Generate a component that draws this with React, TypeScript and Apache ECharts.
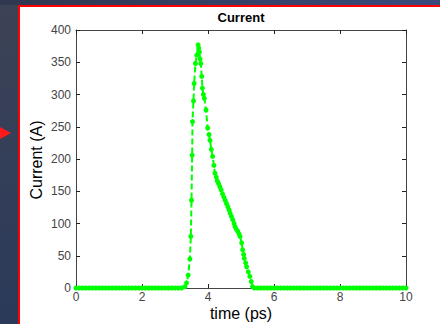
import React, { useEffect, useRef } from "react";
import * as echarts from "echarts";

const time = [
  0, 0.1, 0.2, 0.3, 0.4, 0.5, 0.6, 0.7, 0.8, 0.9, 1.0, 1.1, 1.2, 1.3, 1.4, 1.5, 1.6, 1.7, 1.8, 1.9,
  2.0, 2.1, 2.2, 2.3, 2.4, 2.5, 2.6, 2.7, 2.8, 2.9, 3.0, 3.1, 3.2,
  3.3, 3.35, 3.4, 3.45, 3.48, 3.5, 3.52, 3.53, 3.56, 3.58, 3.62, 3.66, 3.7, 3.72, 3.74, 3.76, 3.78,
  3.81, 3.83, 3.86, 3.89, 3.94, 3.99, 4.03, 4.06, 4.1, 4.14, 4.18, 4.21, 4.25, 4.28, 4.32, 4.36,
  4.4, 4.44, 4.48, 4.52, 4.56, 4.6, 4.64, 4.67, 4.71, 4.75, 4.79,
  4.82, 4.86, 4.9, 4.94, 4.97, 5.02, 5.05, 5.08, 5.1, 5.14, 5.17, 5.22, 5.27, 5.31, 5.35,
  5.4, 5.5, 5.6, 5.7, 5.8, 5.9, 6.0, 6.1, 6.2, 6.3, 6.4, 6.5, 6.6, 6.7, 6.8, 6.9, 7.0, 7.1, 7.2,
  7.3, 7.4, 7.5, 7.6, 7.7, 7.8, 7.9, 8.0, 8.1, 8.2, 8.3, 8.4, 8.5, 8.6, 8.7, 8.8, 8.9, 9.0, 9.1,
  9.2, 9.3, 9.4, 9.5, 9.6, 9.7, 9.8, 9.9, 10.0,
];

const current = [
  0, 0, 0, 0, 0, 0, 0, 0, 0, 0, 0, 0, 0, 0, 0, 0, 0, 0, 0, 0,
  0, 0, 0, 0, 0, 0, 0, 0, 0, 0, 0, 0, 0,
  2, 8, 20, 45, 80, 136, 206, 258, 290, 317, 348, 361, 377, 372, 366, 355, 348,
  328, 310, 300, 294, 276, 248, 238, 229, 215, 204, 190, 178, 172, 166, 162, 157,
  152, 146, 141, 136, 131, 126, 121, 116, 111, 106, 100,
  95, 91, 88, 84, 80, 70, 59, 52, 46, 39, 33, 25, 18, 10, 2,
  0, 0, 0, 0, 0, 0, 0, 0, 0, 0, 0, 0, 0, 0, 0, 0, 0, 0, 0,
  0, 0, 0, 0, 0, 0, 0, 0, 0, 0, 0, 0, 0, 0, 0, 0, 0, 0, 0,
  0, 0, 0, 0, 0, 0, 0, 0, 0,
];

const xTicks = [0, 2, 4, 6, 8, 10];
const yTicks = [0, 50, 100, 150, 200, 250, 300, 350, 400];

const GRID = { left: 76, top: 30, width: 330, height: 258 };
const FONT = "Arial, 'Liberation Sans', sans-serif";

function axisLine() {
  return { show: true, onZero: false, lineStyle: { color: "#444", width: 1 } };
}
function tickIn() {
  return { show: true, inside: true, length: 4, lineStyle: { color: "#222", width: 1 } };
}

export default function App() {
  const ref = useRef<HTMLDivElement>(null);
  useEffect(() => {
    if (!ref.current) return;
    const chart = echarts.init(ref.current, null, { renderer: "svg" });
    const data = time.map((t, i) => [t, current[i]]);
    chart.setOption({
      animation: false,
      backgroundColor: "#ffffff",
      graphic: [
        { type: "rect", shape: { x: 0, y: 0, width: 18, height: 324 }, style: { fill: new echarts.graphic.LinearGradient(0, 0, 0, 1, [{ offset: 0, color: "#3d4356" }, { offset: 1, color: "#2b3a5a" }]) }, z: 0 },
        { type: "rect", shape: { x: 0, y: 0, width: 440, height: 5 }, style: { fill: new echarts.graphic.LinearGradient(0, 0, 1, 0, [{ offset: 0, color: "#30374f" }, { offset: 1, color: "#3a4a7c" }]) }, z: 0 },
        { type: "rect", shape: { x: 18, y: 5, width: 422, height: 2 }, style: { fill: "#ff0000" }, z: 1 },
        { type: "rect", shape: { x: 18, y: 5, width: 2, height: 319 }, style: { fill: "#ff0000" }, z: 1 },
        { type: "polygon", shape: { points: [[0, 127], [11, 133], [0, 139]] }, style: { fill: "#ff1a1a" }, z: 1 },
        {
          type: "text", x: 241, y: 17,
          style: { text: "Current", fontFamily: FONT, fontWeight: "bold", fontSize: 13, fill: "#000", align: "center", verticalAlign: "middle" },
        },
        {
          type: "text", x: 241, y: 313,
          style: { text: "time (ps)", fontFamily: FONT, fontSize: 16, fill: "#000", align: "center", verticalAlign: "middle" },
        },
        {
          type: "text", x: 36, y: 160, rotation: Math.PI / 2,
          style: { text: "Current (A)", fontFamily: FONT, fontSize: 16, fill: "#000", align: "center", verticalAlign: "middle" },
        },
      ],
      grid: { ...GRID, containLabel: false },
      xAxis: [
        {
          type: "value", min: xTicks[0], max: xTicks[xTicks.length - 1], interval: 2, position: "bottom",
          axisLine: axisLine(), axisTick: tickIn(), splitLine: { show: false },
          axisLabel: { fontFamily: FONT, fontSize: 12, color: "#444", margin: 3 },
        },
        {
          type: "value", min: xTicks[0], max: xTicks[xTicks.length - 1], interval: 2, position: "top",
          axisLine: axisLine(), axisTick: tickIn(), splitLine: { show: false }, axisLabel: { show: false },
        },
      ],
      yAxis: [
        {
          type: "value", min: yTicks[0], max: yTicks[yTicks.length - 1], interval: 50, position: "left",
          axisLine: axisLine(), axisTick: tickIn(), splitLine: { show: false },
          axisLabel: { fontFamily: FONT, fontSize: 12, color: "#444", margin: 5 },
        },
        {
          type: "value", min: yTicks[0], max: yTicks[yTicks.length - 1], interval: 50, position: "right",
          axisLine: axisLine(), axisTick: tickIn(), splitLine: { show: false }, axisLabel: { show: false },
        },
      ],
      series: [
        {
          type: "line",
          data,
          xAxisIndex: 0,
          yAxisIndex: 0,
          symbol: "circle",
          symbolSize: 5,
          showAllSymbol: true,
          clip: false,
          itemStyle: { color: "#00ff00" },
          lineStyle: { color: "#00ff00", width: 2, type: [6, 3] },
          z: 3,
        },
      ],
    });
    return () => chart.dispose();
  }, []);
  return <div ref={ref} style={{ position: "fixed", left: 0, top: 0, width: 440, height: 324 }} />;
}
